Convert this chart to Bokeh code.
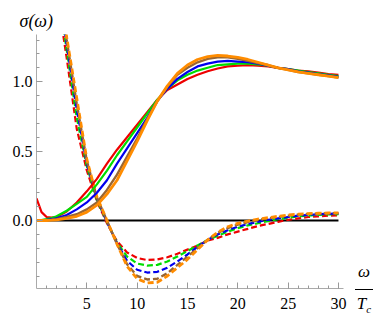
from bokeh.plotting import figure
from bokeh.models import Range1d, FixedTicker, Title, NumeralTickFormatter, Div
from bokeh.layouts import row
from bokeh.embed import file_html
from bokeh.resources import INLINE

# omega / T_c sample points
omega_re = [0, 0.5, 1, 1.5, 2, 3, 4, 5, 6, 7, 8, 9, 10, 11, 12, 13, 14, 15,
            16, 17, 18, 19, 20, 21, 22, 23, 24, 25, 26, 27, 28, 29, 30]
omega_im = [2, 3, 4, 5, 6, 7, 8, 9, 10, 11, 12, 13, 14, 15, 16, 17, 18, 19,
            20, 21, 22, 23, 24, 25, 26, 27, 28, 29, 30]

# real part of sigma (solid)
re_red = [0.16, 0.06, 0.025, 0.02, 0.025, 0.065, 0.13, 0.21, 0.30, 0.41, 0.51, 0.60, 0.69, 0.78, 0.87,
          0.94, 0.98, 1.02, 1.05, 1.075, 1.095, 1.11, 1.115, 1.12, 1.115, 1.11, 1.10, 1.09, 1.08,
          1.075, 1.065, 1.055, 1.05]
re_green = [0.0, 0.003, 0.01, 0.018, 0.03, 0.07, 0.12, 0.17, 0.26, 0.36, 0.47, 0.57, 0.67, 0.77, 0.87,
            0.95, 1.01, 1.05, 1.08, 1.10, 1.12, 1.125, 1.13, 1.13, 1.125, 1.115, 1.10, 1.09, 1.08,
            1.07, 1.06, 1.05, 1.04]
re_blue = [0.0, 0.002, 0.005, 0.01, 0.015, 0.04, 0.08, 0.13, 0.20, 0.29, 0.41, 0.52, 0.63, 0.74, 0.86,
           0.95, 1.02, 1.07, 1.11, 1.13, 1.145, 1.15, 1.145, 1.14, 1.13, 1.115, 1.10, 1.09, 1.075,
           1.065, 1.055, 1.045, 1.035]
re_brown = [0.0, 0.001, 0.003, 0.006, 0.01, 0.025, 0.045, 0.08, 0.13, 0.22, 0.33, 0.46, 0.59, 0.73, 0.86,
            0.965, 1.05, 1.10, 1.14, 1.165, 1.175, 1.175, 1.165, 1.15, 1.135, 1.12, 1.10, 1.085, 1.07,
            1.06, 1.05, 1.04, 1.03]
re_orange = [0.0, 0.0, 0.0, 0.002, 0.005, 0.015, 0.03, 0.06, 0.11, 0.19, 0.29, 0.43, 0.57, 0.72, 0.86,
             0.97, 1.06, 1.12, 1.16, 1.18, 1.19, 1.185, 1.175, 1.16, 1.14, 1.12, 1.10, 1.085, 1.07,
             1.06, 1.05, 1.04, 1.03]

# imaginary part of sigma (dashed)
im_red = [1.65, 1.17, 0.66, 0.36, 0.14, -0.02, -0.15, -0.23, -0.27, -0.285, -0.28, -0.265, -0.24,
          -0.21, -0.18, -0.145, -0.125, -0.10, -0.08, -0.06, -0.04, -0.025, -0.01, 0.005, 0.015,
          0.025, 0.03, 0.035, 0.037]
im_green = [1.70, 1.23, 0.74, 0.39, 0.15, -0.01, -0.16, -0.26, -0.31, -0.325, -0.32, -0.295, -0.26,
            -0.22, -0.18, -0.14, -0.11, -0.08, -0.055, -0.035, -0.02, -0.005, 0.01, 0.02, 0.03,
            0.035, 0.04, 0.043, 0.045]
im_blue = [1.75, 1.27, 0.80, 0.41, 0.16, -0.01, -0.165, -0.29, -0.355, -0.375, -0.37, -0.34, -0.295,
           -0.245, -0.19, -0.14, -0.10, -0.07, -0.045, -0.025, -0.01, 0.005, 0.015, 0.025, 0.035,
           0.04, 0.045, 0.048, 0.05]
im_brown = [1.78, 1.30, 0.84, 0.43, 0.165, 0.0, -0.17, -0.315, -0.40, -0.425, -0.42, -0.38, -0.32,
            -0.26, -0.20, -0.14, -0.09, -0.055, -0.03, -0.012, 0.003, 0.015, 0.025, 0.035, 0.042,
            0.047, 0.05, 0.052, 0.053]
im_orange = [1.80, 1.32, 0.88, 0.44, 0.17, 0.0, -0.17, -0.33, -0.42, -0.45, -0.445, -0.40, -0.34,
             -0.28, -0.21, -0.14, -0.085, -0.045, -0.02, -0.005, 0.01, 0.02, 0.03, 0.04, 0.045,
             0.05, 0.052, 0.054, 0.055]

x_ticks = [5, 10, 15, 20, 25, 30]
y_ticks = [0.0, 0.5, 1.0]

series = [
    ("#ee0000", 2.2, re_red, im_red),
    ("#00dd00", 2.2, re_green, im_green),
    ("#0000ee", 2.2, re_blue, im_blue),
    ("#996633", 2.4, re_brown, im_brown),
    ("#ff8c00", 2.8, re_orange, im_orange),
]

serif = "Liberation Serif"
W, H = 350, 319
p = figure(width=W, height=H, output_backend="svg", toolbar_location=None,
           x_range=Range1d(0, 30.5), y_range=Range1d(-0.49, 1.34),
           min_border_left=36, min_border_right=7, min_border_top=34,
           min_border_bottom=31)
p.outline_line_color = None
p.grid.visible = False
p.background_fill_color = "white"

# y-axis title above the frame
p.add_layout(Title(text="σ(ω)", align="left", offset=-17, standoff=8,
                   text_font=serif, text_font_style="italic", text_font_size="18px",
                   text_color="black"), "above")

# zero line
p.line([omega_re[0], omega_re[-1]], [0, 0], line_color="black", line_width=2.2)

for color, lw, re_vals, im_vals in series:
    p.line(omega_im, im_vals, line_color=color, line_width=lw, line_dash="6 3")
for color, lw, re_vals, im_vals in series:
    p.line(omega_re, re_vals, line_color=color, line_width=lw)

for ax in (p.xaxis[0], p.yaxis[0]):
    ax.axis_line_color = "#aaaaaa"
    ax.major_tick_line_color = "#999999"
    ax.minor_tick_line_color = "#999999"
    ax.major_tick_in = 6
    ax.major_tick_out = 0
    ax.minor_tick_in = 3
    ax.minor_tick_out = 0
    ax.major_label_text_font = serif
    ax.major_label_text_font_size = "16px"
    ax.major_label_text_color = "black"

p.xaxis.ticker = FixedTicker(ticks=x_ticks, minor_ticks=list(range(1, 31)))
p.xaxis.major_label_standoff = 9
p.yaxis.ticker = FixedTicker(ticks=y_ticks,
                             minor_ticks=[round(-0.4 + 0.1 * i, 1) for i in range(18)])
p.yaxis.formatter = NumeralTickFormatter(format="0.0")
p.yaxis.major_label_standoff = 4

# x-axis title as a fraction, to the right of the axis
frac_html = (
    '<div style="margin-top:262px;margin-left:5px;width:18px;text-align:center;'
    'font-family:\'Liberation Serif\',serif;font-style:italic;font-size:17px;color:black;">'
    '<div style="line-height:20px;padding-bottom:7px;border-bottom:1px solid black;">ω</div>'
    '<div style="line-height:20px;padding-top:4px;">T<sub style="font-size:11px;">c</sub></div>'
    '</div>'
)
frac = Div(text=frac_html, width=374 - W, height=H, margin=0)

layout = row(p, frac)
open("out.html", "w").write(file_html(layout, INLINE))
